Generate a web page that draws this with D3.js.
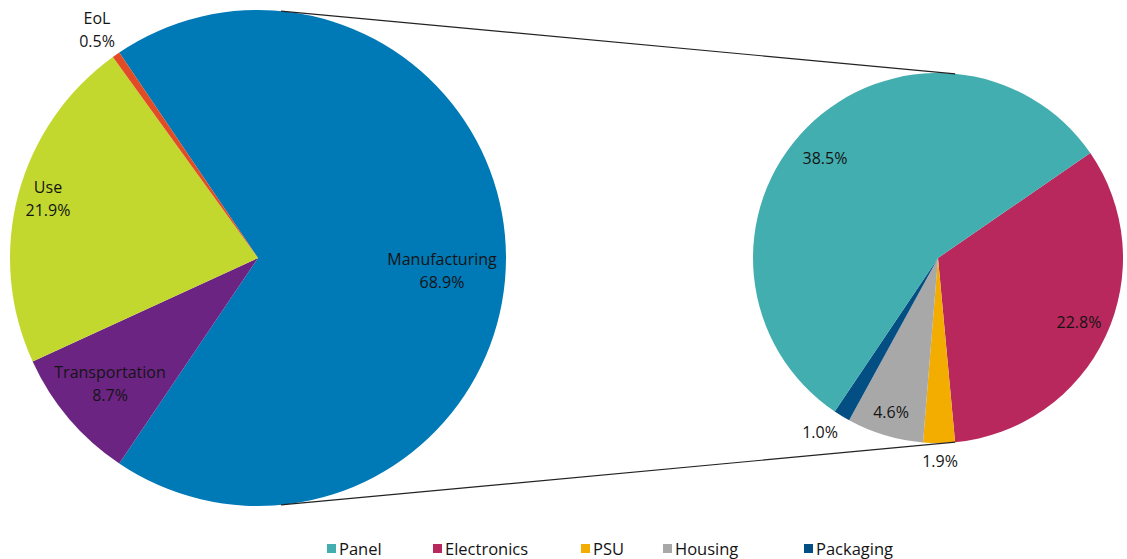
<!DOCTYPE html>
<html><head><meta charset="utf-8">
<script src="https://cdn.jsdelivr.net/npm/d3@7"></script>
<style>body{margin:0;background:#fff}svg{display:block}text{font-family:"Open Sans",sans-serif;fill:#141414}</style>
</head><body><svg id="c" width="1127" height="559"></svg>
<script>
const mainCategories = ["Manufacturing","Transportation","Use","EoL"];
const mainValues = [68.9, 8.7, 21.9, 0.5];
const mainColors = ["#0079B7","#6C2483","#C3D82E","#E14B25"];
const subCategories = ["Electronics","PSU","Housing","Packaging","Panel"];
const subValues = [22.8, 1.9, 4.6, 1.0, 38.5];
const subColors = ["#B8285C","#F3AC00","#A8A8A8","#034E82","#43AEAF"];
const legendOrder = ["Panel","Electronics","PSU","Housing","Packaging"];

const svg = d3.select("#c");
const c1 = {x:258, y:258, r:248};
const c2 = {x:938, y:258, r:185};
const deg = Math.PI/180;

// main pie: split slice (Manufacturing) centered on the right (90°)
const manuAngle = mainValues[0]/d3.sum(mainValues)*2*Math.PI;
const pie1 = d3.pie().sort(null).value(d=>d).startAngle(Math.PI/2 - manuAngle/2).endAngle(Math.PI/2 - manuAngle/2 + 2*Math.PI);
const arcs1 = pie1(mainValues);
const arc1 = d3.arc().innerRadius(0).outerRadius(c1.r);
const g1 = svg.append("g").attr("transform",`translate(${c1.x},${c1.y})`);
g1.selectAll("path").data(arcs1).join("path").attr("d",arc1).attr("fill",(d,i)=>mainColors[i]);

// secondary pie
const start2 = 55.4*deg;
const pie2 = d3.pie().sort(null).value(d=>d).startAngle(start2).endAngle(start2+2*Math.PI);
const arcs2 = pie2(subValues);
const arc2 = d3.arc().innerRadius(0).outerRadius(c2.r);
const g2 = svg.append("g").attr("transform",`translate(${c2.x},${c2.y})`);
g2.selectAll("path").data(arcs2).join("path").attr("d",arc2).attr("fill",(d,i)=>subColors[i]);

// connector lines: external tangents
const dd = c2.x - c1.x;
const th = Math.asin((c1.r - c2.r)/dd);
[th, Math.PI - th].forEach(a=>{
  svg.append("line")
    .attr("x1", c1.x + c1.r*Math.sin(a)).attr("y1", c1.y - c1.r*Math.cos(a))
    .attr("x2", c2.x + c2.r*Math.sin(a)).attr("y2", c2.y - c2.r*Math.cos(a))
    .attr("stroke","#222").attr("stroke-width",1.2);
});

const fs = 16;
function label(x,y,lines){
  const t = svg.append("text").attr("text-anchor","middle").attr("font-size",fs);
  lines.forEach((l,i)=>t.append("tspan").attr("x",x).attr("y",y+i*23).text(l));
}
const fmt = v => v.toFixed(1)+"%";
const mainLabelPos = [[442,265],[110,378],[48,193],[97,24]];
mainCategories.forEach((c,i)=>label(mainLabelPos[i][0], mainLabelPos[i][1], [c, fmt(mainValues[i])]));
const subLabelPos = [[1079,328],[940,467],[891,418],[820,438],[825,164]];
subValues.forEach((v,i)=>label(subLabelPos[i][0], subLabelPos[i][1], [fmt(v)]));

// legend
const legX = [327,433,581,663,804];
const lg = svg.append("g");
legendOrder.forEach((n,i)=>{
  const j = subCategories.indexOf(n);
  lg.append("rect").attr("x",legX[i]).attr("y",544).attr("width",9).attr("height",9).attr("fill",subColors[j]);
  lg.append("text").attr("x",legX[i]+12).attr("y",555).attr("font-size",16.5).text(n);
});
</script></body></html>
